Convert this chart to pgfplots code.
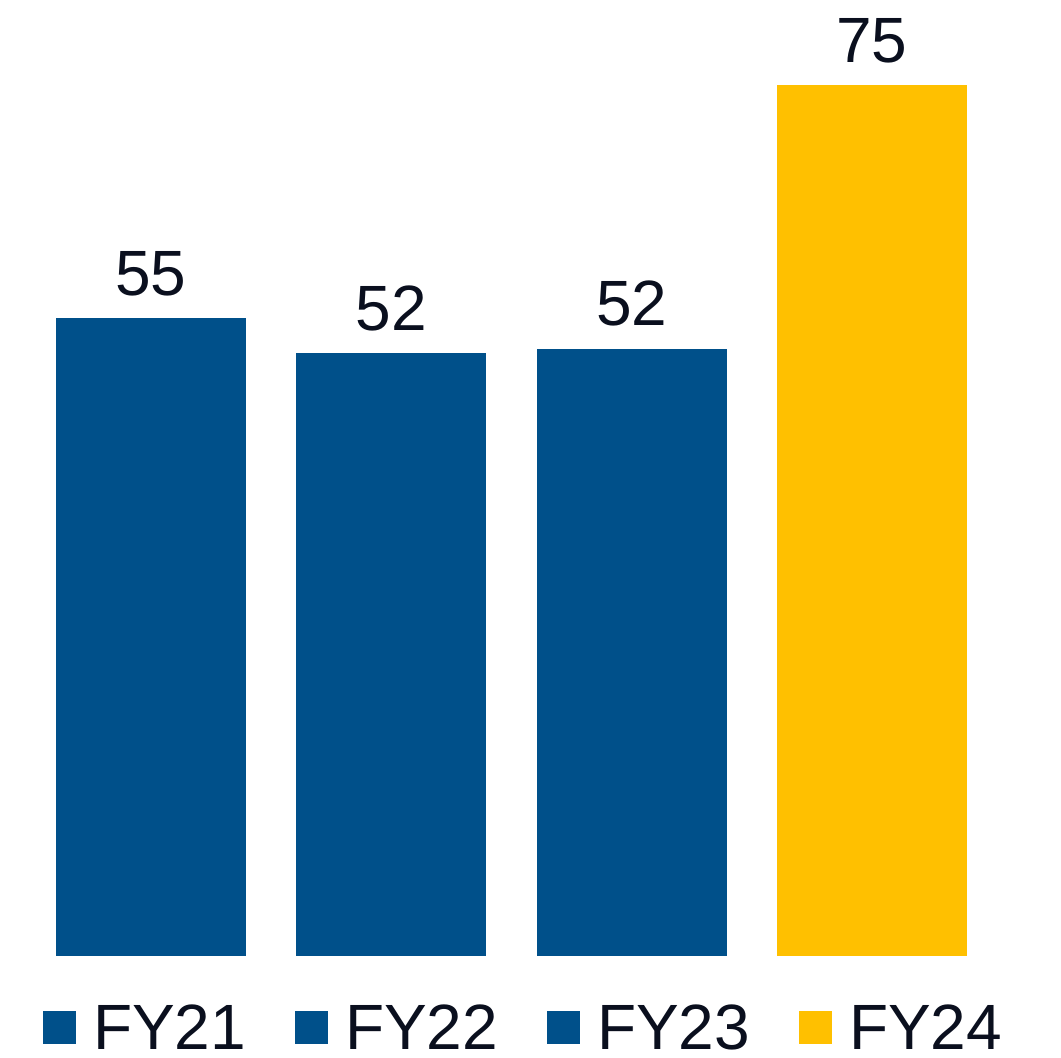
\documentclass[border=0pt]{standalone}
\usepackage{pgfplots}
\pgfplotsset{compat=1.18}
\usepackage{fontspec}
\setmainfont{Liberation Sans}
\definecolor{barblue}{HTML}{00508A}
\definecolor{baryellow}{HTML}{FFC000}
\definecolor{txt}{HTML}{0A0F1E}
\pgfplotsset{sqlegend/.style={legend image code/.code={\fill[##1] (0pt,-16.5pt) rectangle (33pt,16.5pt);}}}
\begin{document}
\begin{tikzpicture}
\path[use as bounding box] (0pt,-102pt) rectangle (1061pt,956pt);
\begin{axis}[
  at={(0pt,0pt)}, anchor=south west,
  scale only axis, width=1061pt, height=956pt,
  xmin=-0.6283, xmax=3.7866, ymin=0, ymax=82.32,
  hide axis, clip=false,
  ybar, bar width=0.7906, bar shift=0pt,
  point meta=explicit symbolic,
  nodes near coords={\color{txt}\fontsize{64}{70}\selectfont\pgfplotspointmeta},
  every node near coord/.append style={anchor=base, yshift=23pt, inner sep=0pt},
  legend columns=4,
  legend style={draw=none, fill=none, at={(0.0377,-0.0753)}, anchor=west,
    font=\fontsize{64}{70}\selectfont, text=txt, nodes={inner sep=0pt},
    /tikz/every odd column/.append style={column sep=17pt},
    /tikz/every even column/.append style={column sep=49pt}},
]
\addplot[fill=barblue, draw=none, bar shift=0pt, sqlegend] coordinates {(0,54.9) [55]};
\addlegendentry{FY21}
\addplot[fill=barblue, draw=none, bar shift=0pt, sqlegend] coordinates {(1,51.9) [52]};
\addlegendentry{FY22}
\addplot[fill=barblue, draw=none, bar shift=0pt, sqlegend] coordinates {(2,52.3) [52]};
\addlegendentry{FY23}
\addplot[fill=baryellow, draw=none, bar shift=0pt, sqlegend] coordinates {(3,75) [75]};
\addlegendentry{FY24}
\end{axis}
\end{tikzpicture}
\end{document}
